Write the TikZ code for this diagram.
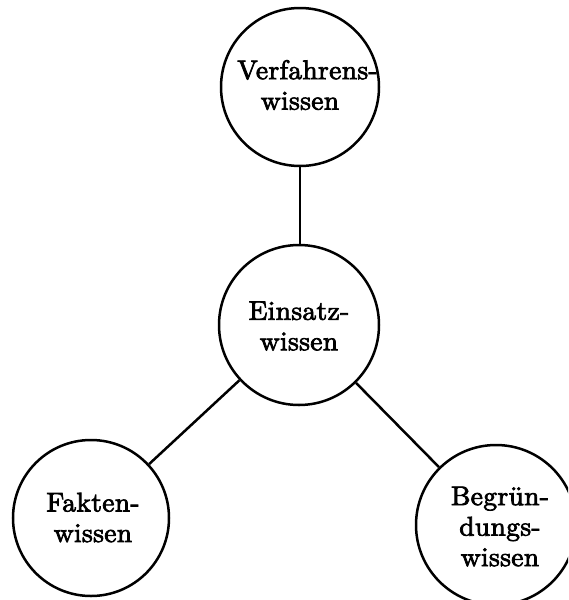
\documentclass[tikz,border=0pt]{standalone}
\usepackage{fontspec}
\newfontfamily\wfont{lmroman10-regular.otf}[LetterSpace=1.2,FakeStretch=1.02,FakeBold=2.8]
\begin{document}
\begin{tikzpicture}[x=1pt,y=-1pt,
  ring/.style={circle,draw,line width=2.5pt,inner sep=0pt},
  wtext/.style={inner sep=0pt,align=center,
    font=\wfont\fontsize{27}{30.5}\selectfont},
  link/.style={line width=2.5pt}]
\path[use as bounding box] (0,0) rectangle (568,600);
\clip (0,0) rectangle (568,600);
\node[ring,minimum size=158pt] (verf) at (300,87) {};
\node[ring,minimum size=160pt] (eins) at (299,325) {};
\node[ring,minimum size=156pt] (fakt) at (91,518) {};
\node[ring,minimum size=160pt] (begr) at (496,525) {};
\node[wtext] (verft) at (300,85) {\hspace*{15pt}Verfahrens-\\wissen};
\node[wtext] (einst) at (299,326) {Einsatz-\\wissen};
\node[wtext] (faktt) at (93,517.5) {Fakten-\\wissen};
\node[wtext] (begrt) at (500,526.5) {Begrün-\\dungs-\\wissen};
\draw[link] (verf.south) -- (verf.south |- eins.north);
\draw[link] (eins) -- (fakt);
\draw[link] (eins) -- (begr);
\end{tikzpicture}
\end{document}
